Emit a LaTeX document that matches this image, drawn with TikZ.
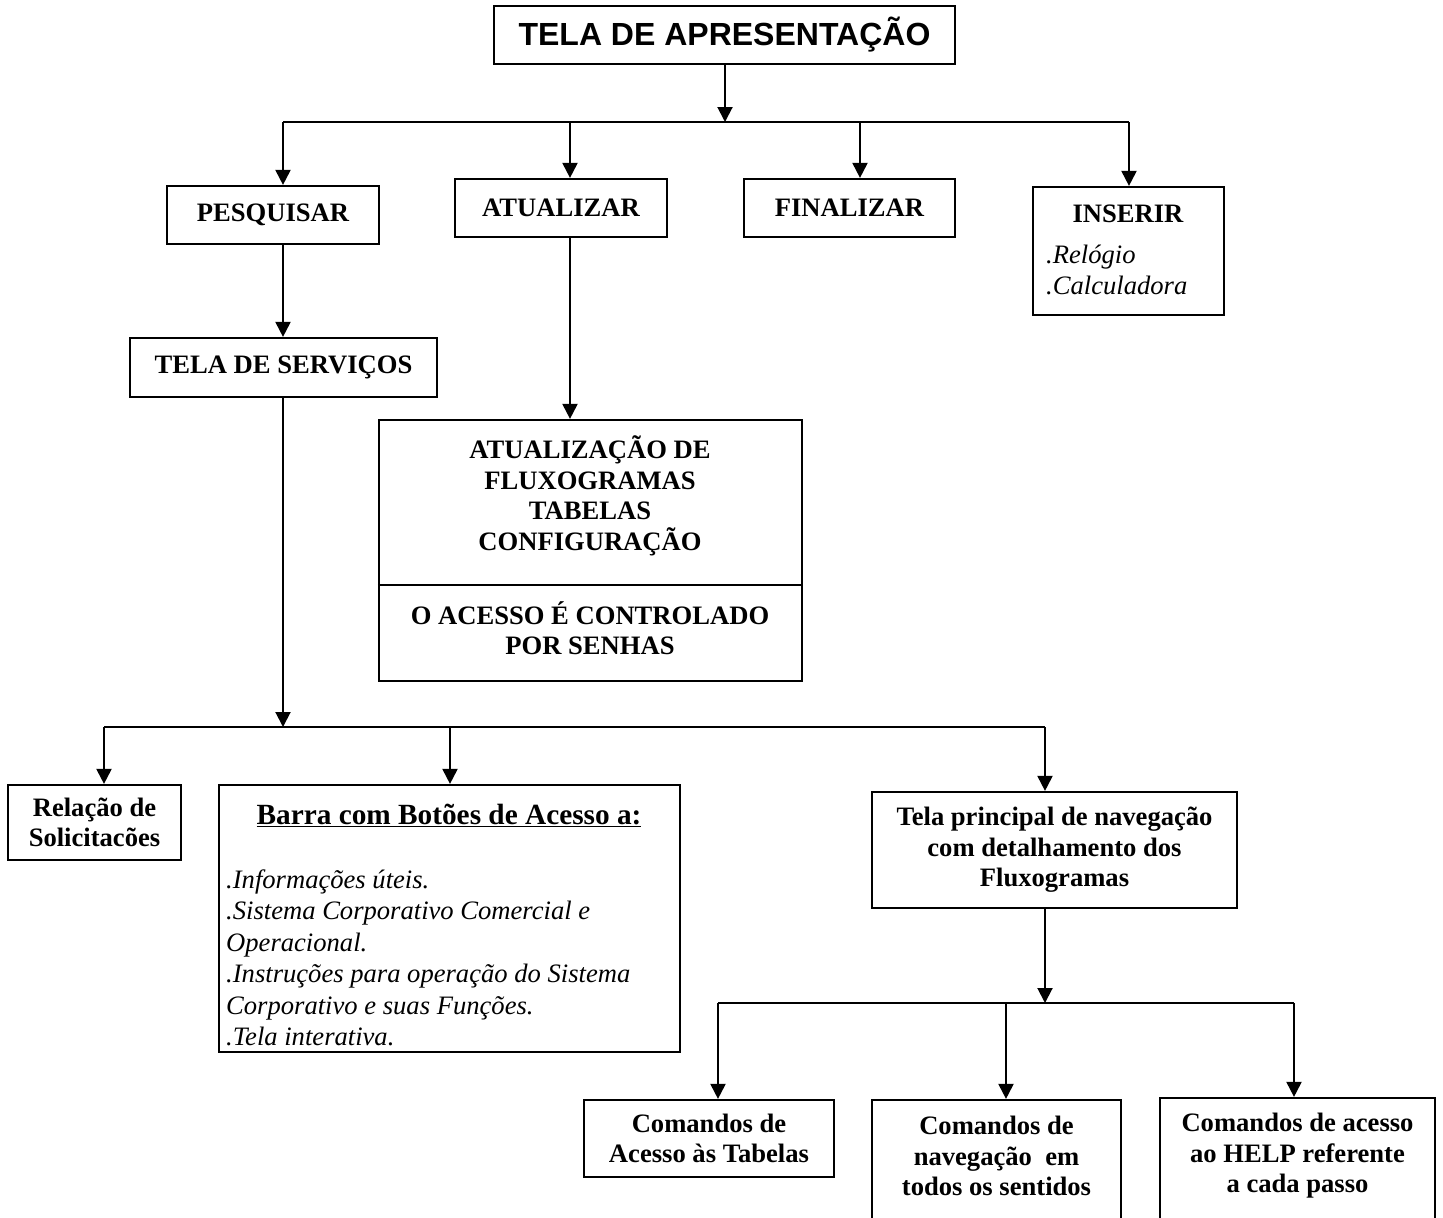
\documentclass[tikz,border=0pt]{standalone}
\usepackage{fontspec}
\setmainfont{Liberation Serif}
\newfontfamily\arialfont{Liberation Sans}
\usetikzlibrary{arrows.meta}
\begin{document}
\begin{tikzpicture}[x=1pt,y=-1pt,
  box/.style={draw, line width=2.2pt, inner sep=0pt, align=center},
  conn/.style={line width=2pt},
  arr/.style={line width=2pt, -{Triangle[width=15pt,length=15pt]}},
  bf/.style={font=\fontsize{26.6}{30.5}\selectfont\bfseries, align=center, inner sep=0pt},
  itl/.style={font=\fontsize{26.6}{31.5}\selectfont\itshape, align=left, inner sep=0pt},
]
\useasboundingbox (0,0) rectangle (1443,1218);
\clip (0,0) rectangle (1443,1218);

% --- top level
\node[box, minimum width=461pt, minimum height=58pt, font=\fontsize{32}{36}\arialfont\bfseries] (title) at (724.5,35) {TELA DE APRESENTAÇÃO};

\node[box, bf, minimum width=212pt, minimum height=58pt] (pesq) at (273,215) {PESQUISAR};
\node[box, bf, minimum width=212pt, minimum height=58pt] (atu) at (561,208) {ATUALIZAR};
\node[box, bf, minimum width=211pt, minimum height=58pt] (fin) at (849.5,208) {FINALIZAR};
\node[box, minimum width=191pt, minimum height=128pt] (ins) at (1128.5,251) {};
\node[bf] (insT) at (1128,214) {INSERIR};
\node[itl, anchor=west] (insL) at (1046,270) {.Relógio\\.Calculadora};

\node[box, bf, minimum width=307pt, minimum height=59pt] (serv) at (283.5,367.5) {TELA DE SERVIÇOS};

\node[box, minimum width=423pt, minimum height=261pt] (big) at (590.5,550.5) {};
\coordinate (div) at (590,585);
\draw[line width=2.2pt] (big.west |- div) -- (big.east |- div);
\node[bf] (bigT) at (590,496) {ATUALIZAÇÃO DE\\FLUXOGRAMAS\\TABELAS\\CONFIGURAÇÃO};
\node[bf] (bigB) at (590,628) {O ACESSO É CONTROLADO\\POR SENHAS};

% --- second level
\node[box, bf, minimum width=173pt, minimum height=75pt] (rel) at (94.5,822.5) {Relação de\\Solicitacões};
\node[box, minimum width=461pt, minimum height=267pt] (barra) at (449.5,918.5) {};
\node[font=\fontsize{29.3}{33}\selectfont\bfseries, inner sep=0pt] (barT) at (449,815) {\underline{Barra com Botões de Acesso a:}};
\node[itl, anchor=west] (barL) at (226,958) {.Informações úteis.\\.Sistema Corporativo Comercial e\\Operacional.\\.Instruções para operação do Sistema\\Corporativo e suas Funções.\\.Tela interativa.};
\node[box, bf, minimum width=365pt, minimum height=116pt] (tela) at (1054.5,850) {Tela principal de navegação\\com detalhamento dos\\Fluxogramas};

% --- third level
\node[box, bf, minimum width=250pt, minimum height=77pt] (cmdA) at (709,1138.5) {Comandos de\\Acesso às Tabelas};
\node[box, minimum width=249pt, minimum height=140pt] (cmdN) at (996.5,1170) {};
\node[bf] (cmdNT) at (996.5,1156) {Comandos de\\navegação~~em\\todos os sentidos};
\node[box, minimum width=275pt, minimum height=142pt] (cmdH) at (1297.5,1169) {};
\node[bf] (cmdHT) at (1297.5,1156) {Comandos de acesso\\ao HELP referente\\a cada passo};

% --- connectors level 1
\coordinate (bus1) at (725,122);
\coordinate (bus1L) at (283,122);
\coordinate (bus1b) at (570,122);
\coordinate (bus1c) at (860,122);
\coordinate (bus1R) at (1129,122);
\draw[arr] (title.south -| bus1) -- (bus1);
\draw[conn] (bus1L) -- (bus1R);
\draw[arr] (bus1L) -- (bus1L |- pesq.north);
\draw[arr] (bus1b) -- (bus1b |- atu.north);
\draw[arr] (bus1c) -- (bus1c |- fin.north);
\draw[arr] (bus1R) -- (bus1R |- ins.north);
\draw[arr] (pesq.south -| bus1L) -- (serv.north -| bus1L);
\draw[arr] (atu.south -| bus1b) -- (big.north -| bus1b);

% --- connectors level 2
\coordinate (bus2) at (283,727);
\coordinate (bus2L) at (104,727);
\coordinate (bus2b) at (450,727);
\coordinate (bus2R) at (1045,727);
\draw[arr] (serv.south -| bus2) -- (bus2);
\draw[conn] (bus2L) -- (bus2R);
\draw[arr] (bus2L) -- (bus2L |- rel.north);
\draw[arr] (bus2b) -- (bus2b |- barra.north);
\draw[arr] (bus2R) -- (bus2R |- tela.north);

% --- connectors level 3
\coordinate (bus3) at (1045,1003);
\coordinate (bus3L) at (718,1003);
\coordinate (bus3b) at (1006,1003);
\coordinate (bus3R) at (1294,1003);
\draw[arr] (tela.south -| bus3) -- (bus3);
\draw[conn] (bus3L) -- (bus3R);
\draw[arr] (bus3L) -- (bus3L |- cmdA.north);
\draw[arr] (bus3b) -- (bus3b |- cmdN.north);
\draw[arr] (bus3R) -- (bus3R |- cmdH.north);
\end{tikzpicture}
\end{document}
